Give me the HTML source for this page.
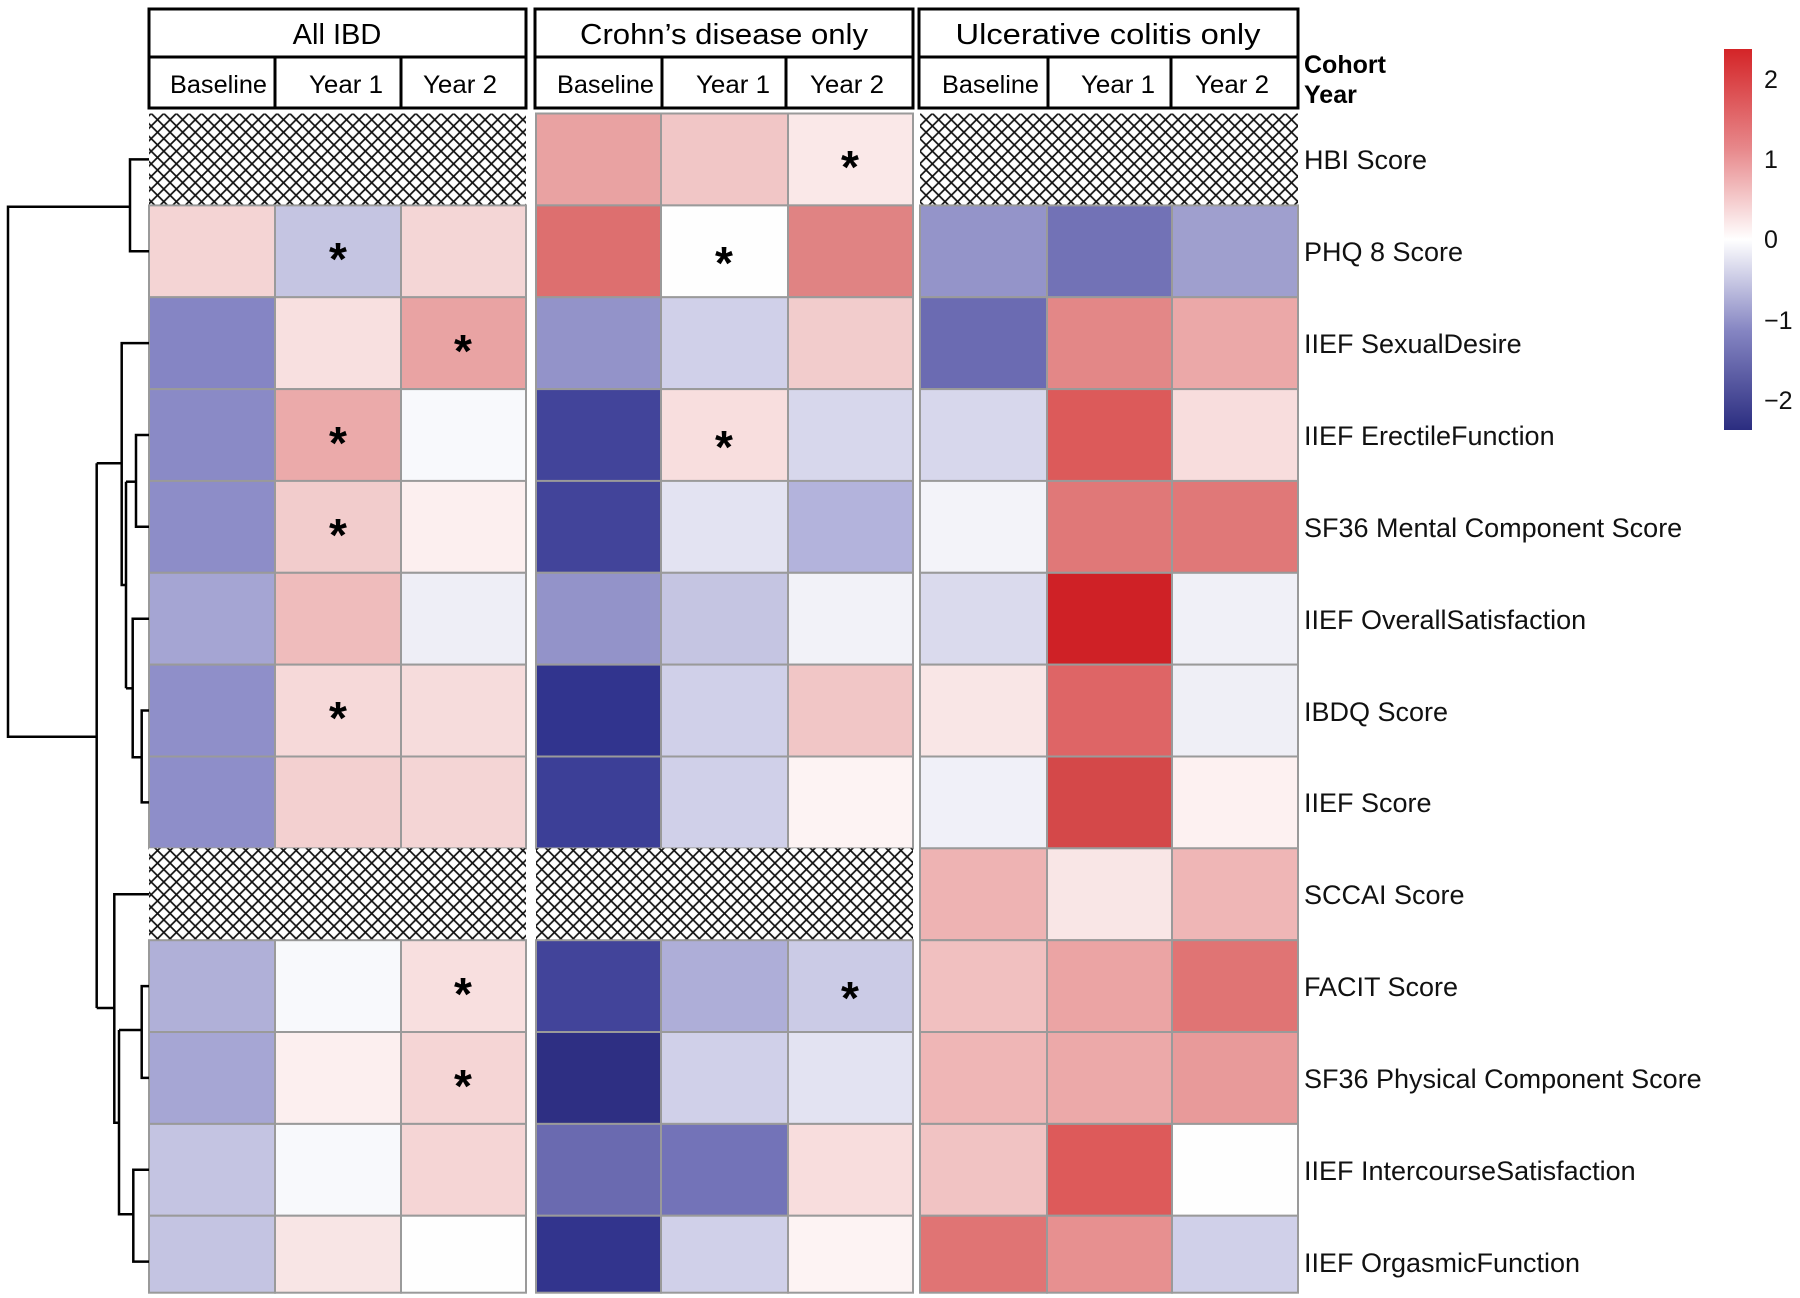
<!DOCTYPE html>
<html><head><meta charset="utf-8"><style>
html,body{margin:0;padding:0;background:#fff;}
svg{display:block;}
text{font-family:"Liberation Sans",Arial,sans-serif;}
.h{font-family:"Liberation Sans Narrow","Liberation Sans",sans-serif;font-size:29px;}
.s{font-family:"Liberation Sans Narrow","Liberation Sans",sans-serif;font-size:25px;}
.l{font-size:27px;fill:#111;}
.a{font-size:46px;font-weight:bold;}
</style></head><body>
<svg width="1800" height="1298" viewBox="0 0 1800 1298" xmlns="http://www.w3.org/2000/svg">
<defs>
<pattern id="hx" width="12.6" height="12.6" patternUnits="userSpaceOnUse">
<rect width="12.6" height="12.6" fill="#fff"/>
<path d="M0 0L12.6 12.6M12.6 0L0 12.6" stroke="#111" stroke-width="1.7"/>
</pattern>
<linearGradient id="cb" x1="0" y1="0" x2="0" y2="1">
<stop offset="0" stop-color="#d42427"/>
<stop offset="0.26" stop-color="#e7878a"/>
<stop offset="0.5" stop-color="#ffffff"/>
<stop offset="0.74" stop-color="#8585c2"/>
<stop offset="1" stop-color="#2b2d80"/>
</linearGradient>
</defs>

<g fill="none" stroke="#000" stroke-width="3">
<rect x="149" y="9" width="377" height="48"/><rect x="149" y="57" width="377" height="51"/>
<line x1="275" y1="57" x2="275" y2="108"/><line x1="401" y1="57" x2="401" y2="108"/>
<rect x="535" y="9" width="378" height="48"/><rect x="535" y="57" width="378" height="51"/>
<line x1="662" y1="57" x2="662" y2="108"/><line x1="786" y1="57" x2="786" y2="108"/>
<rect x="919" y="9" width="379" height="48"/><rect x="919" y="57" width="379" height="51"/>
<line x1="1048" y1="57" x2="1048" y2="108"/><line x1="1171" y1="57" x2="1171" y2="108"/>
</g>
<text class="h" x="337" y="44" text-anchor="middle">All IBD</text>
<text class="h" x="724" y="44" text-anchor="middle" textLength="288" lengthAdjust="spacingAndGlyphs">Crohn’s disease only</text>
<text class="h" x="1108" y="44" text-anchor="middle" textLength="305" lengthAdjust="spacingAndGlyphs">Ulcerative colitis only</text>
<g class="s">
<text x="170" y="93" textLength="97" lengthAdjust="spacingAndGlyphs">Baseline</text>
<text x="309" y="93" textLength="74" lengthAdjust="spacingAndGlyphs">Year 1</text>
<text x="423" y="93" textLength="74" lengthAdjust="spacingAndGlyphs">Year 2</text>
<text x="557" y="93" textLength="97" lengthAdjust="spacingAndGlyphs">Baseline</text>
<text x="696" y="93" textLength="74" lengthAdjust="spacingAndGlyphs">Year 1</text>
<text x="810" y="93" textLength="74" lengthAdjust="spacingAndGlyphs">Year 2</text>
<text x="942" y="93" textLength="97" lengthAdjust="spacingAndGlyphs">Baseline</text>
<text x="1081" y="93" textLength="74" lengthAdjust="spacingAndGlyphs">Year 1</text>
<text x="1195" y="93" textLength="74" lengthAdjust="spacingAndGlyphs">Year 2</text>
</g>
<text x="1304" y="73" font-size="25" font-weight="bold">Cohort</text>
<text x="1304" y="103" font-size="25" font-weight="bold">Year</text>

<g stroke="#9a9a9a" stroke-width="2">
<rect x="149" y="113.5" width="377" height="91.9" fill="url(#hx)" stroke="none"/>
<rect x="149" y="205.4" width="126" height="91.9" fill="#f4d4d4"/><rect x="275" y="205.4" width="126" height="91.9" fill="#c5c5e2"/><rect x="401" y="205.4" width="125" height="91.9" fill="#f4d6d6"/>
<rect x="149" y="297.2" width="126" height="91.9" fill="#8585c4"/><rect x="275" y="297.2" width="126" height="91.9" fill="#f8e0e0"/><rect x="401" y="297.2" width="125" height="91.9" fill="#e9a3a3"/>
<rect x="149" y="389.1" width="126" height="91.9" fill="#8a8ac6"/><rect x="275" y="389.1" width="126" height="91.9" fill="#ebaaaa"/><rect x="401" y="389.1" width="125" height="91.9" fill="#f8f9fc"/>
<rect x="149" y="480.9" width="126" height="91.9" fill="#8d8dc8"/><rect x="275" y="480.9" width="126" height="91.9" fill="#f2cccc"/><rect x="401" y="480.9" width="125" height="91.9" fill="#fcefef"/>
<rect x="149" y="572.8" width="126" height="91.9" fill="#a5a5d3"/><rect x="275" y="572.8" width="126" height="91.9" fill="#efbcbc"/><rect x="401" y="572.8" width="125" height="91.9" fill="#eeeef6"/>
<rect x="149" y="664.6" width="126" height="91.9" fill="#8f8fc9"/><rect x="275" y="664.6" width="126" height="91.9" fill="#f6d9d9"/><rect x="401" y="664.6" width="125" height="91.9" fill="#f6dcdc"/>
<rect x="149" y="756.5" width="126" height="91.9" fill="#8e8ec9"/><rect x="275" y="756.5" width="126" height="91.9" fill="#f3d0d0"/><rect x="401" y="756.5" width="125" height="91.9" fill="#f4d5d5"/>
<rect x="149" y="848.3" width="377" height="91.9" fill="url(#hx)" stroke="none"/>
<rect x="149" y="940.2" width="126" height="91.9" fill="#b0b0d8"/><rect x="275" y="940.2" width="126" height="91.9" fill="#f8f9fc"/><rect x="401" y="940.2" width="125" height="91.9" fill="#f8dfdf"/>
<rect x="149" y="1032" width="126" height="91.9" fill="#a6a6d4"/><rect x="275" y="1032" width="126" height="91.9" fill="#fcefef"/><rect x="401" y="1032" width="125" height="91.9" fill="#f5d5d5"/>
<rect x="149" y="1123.9" width="126" height="91.9" fill="#c4c4e2"/><rect x="275" y="1123.9" width="126" height="91.9" fill="#f8f9fc"/><rect x="401" y="1123.9" width="125" height="91.9" fill="#f5d5d5"/>
<rect x="149" y="1215.7" width="126" height="77" fill="#c4c4e2"/><rect x="275" y="1215.7" width="126" height="77" fill="#f8e5e5"/><rect x="401" y="1215.7" width="125" height="77" fill="#fefefe"/>
<rect x="536" y="113.5" width="125" height="91.9" fill="#e9a2a2"/><rect x="661" y="113.5" width="127" height="91.9" fill="#f1c6c6"/><rect x="788" y="113.5" width="125" height="91.9" fill="#fae8e8"/>
<rect x="536" y="205.4" width="125" height="91.9" fill="#dd6f6f"/><rect x="661" y="205.4" width="127" height="91.9" fill="#fefefe"/><rect x="788" y="205.4" width="125" height="91.9" fill="#e08383"/>
<rect x="536" y="297.2" width="125" height="91.9" fill="#9393c9"/><rect x="661" y="297.2" width="127" height="91.9" fill="#d0d0e9"/><rect x="788" y="297.2" width="125" height="91.9" fill="#f2cccc"/>
<rect x="536" y="389.1" width="125" height="91.9" fill="#42449a"/><rect x="661" y="389.1" width="127" height="91.9" fill="#f8dede"/><rect x="788" y="389.1" width="125" height="91.9" fill="#d7d7ec"/>
<rect x="536" y="480.9" width="125" height="91.9" fill="#42449a"/><rect x="661" y="480.9" width="127" height="91.9" fill="#e3e3f2"/><rect x="788" y="480.9" width="125" height="91.9" fill="#b3b3dc"/>
<rect x="536" y="572.8" width="125" height="91.9" fill="#9393c9"/><rect x="661" y="572.8" width="127" height="91.9" fill="#c5c5e2"/><rect x="788" y="572.8" width="125" height="91.9" fill="#f2f2f8"/>
<rect x="536" y="664.6" width="125" height="91.9" fill="#31348e"/><rect x="661" y="664.6" width="127" height="91.9" fill="#d0d0e9"/><rect x="788" y="664.6" width="125" height="91.9" fill="#f1c6c6"/>
<rect x="536" y="756.5" width="125" height="91.9" fill="#3c3f97"/><rect x="661" y="756.5" width="127" height="91.9" fill="#d0d0e9"/><rect x="788" y="756.5" width="125" height="91.9" fill="#fdf3f3"/>
<rect x="536" y="848.3" width="377" height="91.9" fill="url(#hx)" stroke="none"/>
<rect x="536" y="940.2" width="125" height="91.9" fill="#42449a"/><rect x="661" y="940.2" width="127" height="91.9" fill="#aeaed8"/><rect x="788" y="940.2" width="125" height="91.9" fill="#cbcbe6"/>
<rect x="536" y="1032" width="125" height="91.9" fill="#2e2f83"/><rect x="661" y="1032" width="127" height="91.9" fill="#d0d0e9"/><rect x="788" y="1032" width="125" height="91.9" fill="#e3e3f2"/>
<rect x="536" y="1123.9" width="125" height="91.9" fill="#6a6ab0"/><rect x="661" y="1123.9" width="127" height="91.9" fill="#7373b8"/><rect x="788" y="1123.9" width="125" height="91.9" fill="#f8dddd"/>
<rect x="536" y="1215.7" width="125" height="77" fill="#32348d"/><rect x="661" y="1215.7" width="127" height="77" fill="#d0d0e9"/><rect x="788" y="1215.7" width="125" height="77" fill="#fdf3f3"/>
<rect x="920" y="113.5" width="378" height="91.9" fill="url(#hx)" stroke="none"/>
<rect x="920" y="205.4" width="127" height="91.9" fill="#9494c9"/><rect x="1047" y="205.4" width="125" height="91.9" fill="#7272b6"/><rect x="1172" y="205.4" width="126" height="91.9" fill="#9f9fce"/>
<rect x="920" y="297.2" width="127" height="91.9" fill="#6b6bb2"/><rect x="1047" y="297.2" width="125" height="91.9" fill="#e38787"/><rect x="1172" y="297.2" width="126" height="91.9" fill="#eba8a8"/>
<rect x="920" y="389.1" width="127" height="91.9" fill="#d7d7ec"/><rect x="1047" y="389.1" width="125" height="91.9" fill="#dc5a5a"/><rect x="1172" y="389.1" width="126" height="91.9" fill="#f8dddd"/>
<rect x="920" y="480.9" width="127" height="91.9" fill="#f3f3f9"/><rect x="1047" y="480.9" width="125" height="91.9" fill="#e07878"/><rect x="1172" y="480.9" width="126" height="91.9" fill="#e07878"/>
<rect x="920" y="572.8" width="127" height="91.9" fill="#dadaed"/><rect x="1047" y="572.8" width="125" height="91.9" fill="#cf2126"/><rect x="1172" y="572.8" width="126" height="91.9" fill="#f0f0f7"/>
<rect x="920" y="664.6" width="127" height="91.9" fill="#f9e6e6"/><rect x="1047" y="664.6" width="125" height="91.9" fill="#de6566"/><rect x="1172" y="664.6" width="126" height="91.9" fill="#efeff6"/>
<rect x="920" y="756.5" width="127" height="91.9" fill="#f0f0f8"/><rect x="1047" y="756.5" width="125" height="91.9" fill="#d44849"/><rect x="1172" y="756.5" width="126" height="91.9" fill="#fdf1f1"/>
<rect x="920" y="848.3" width="127" height="91.9" fill="#eeb3b3"/><rect x="1047" y="848.3" width="125" height="91.9" fill="#f9e6e6"/><rect x="1172" y="848.3" width="126" height="91.9" fill="#efb6b6"/>
<rect x="920" y="940.2" width="127" height="91.9" fill="#f1c0c0"/><rect x="1047" y="940.2" width="125" height="91.9" fill="#eba4a4"/><rect x="1172" y="940.2" width="126" height="91.9" fill="#e07474"/>
<rect x="920" y="1032" width="127" height="91.9" fill="#efb6b6"/><rect x="1047" y="1032" width="125" height="91.9" fill="#eca9a9"/><rect x="1172" y="1032" width="126" height="91.9" fill="#e89a9a"/>
<rect x="920" y="1123.9" width="127" height="91.9" fill="#f1c3c3"/><rect x="1047" y="1123.9" width="125" height="91.9" fill="#dd5a5a"/><rect x="1172" y="1123.9" width="126" height="91.9" fill="#fefefe"/>
<rect x="920" y="1215.7" width="127" height="77" fill="#e07474"/><rect x="1047" y="1215.7" width="125" height="77" fill="#e79090"/><rect x="1172" y="1215.7" width="126" height="77" fill="#d0d0e9"/>
</g>

<g class="a" text-anchor="middle">
<text x="338" y="275">*</text>
<text x="463" y="367">*</text>
<text x="338" y="459">*</text>
<text x="338" y="551">*</text>
<text x="338" y="734">*</text>
<text x="463" y="1010">*</text>
<text x="463" y="1102">*</text>
<text x="850" y="183">*</text>
<text x="724" y="279">*</text>
<text x="724" y="463">*</text>
<text x="850" y="1014">*</text>
</g>

<g class="l">
<text x="1304" y="169">HBI Score</text>
<text x="1304" y="261">PHQ 8 Score</text>
<text x="1304" y="353">IIEF SexualDesire</text>
<text x="1304" y="445">IIEF ErectileFunction</text>
<text x="1304" y="537">SF36 Mental Component Score</text>
<text x="1304" y="629">IIEF OverallSatisfaction</text>
<text x="1304" y="721">IBDQ Score</text>
<text x="1304" y="812">IIEF Score</text>
<text x="1304" y="904">SCCAI Score</text>
<text x="1304" y="996">FACIT Score</text>
<text x="1304" y="1088">SF36 Physical Component Score</text>
<text x="1304" y="1180">IIEF IntercourseSatisfaction</text>
<text x="1304" y="1272">IIEF OrgasmicFunction</text>
</g>

<rect x="1724" y="49" width="28" height="381" fill="url(#cb)"/>
<g font-size="25" fill="#111">
<text x="1764" y="88">2</text>
<text x="1764" y="168">1</text>
<text x="1764" y="248">0</text>
<text x="1764" y="329">−1</text>
<text x="1764" y="409">−2</text>
</g>

<g fill="none" stroke="#000" stroke-width="2.5">
<path d="M149 159.4H130V251.3H149"/>
<path d="M130 206.7H8V736.7H96.7"/>
<path d="M96.7 463.3V1008"/>
<path d="M96.7 463.3H121.7"/>
<path d="M149 343.1H121.7V585H126"/>
<path d="M126 481.7V688.3"/>
<path d="M126 481.7H136"/>
<path d="M149 435H136V526.8H149"/>
<path d="M126 688.3H132.7"/>
<path d="M149 618.7H132.7V757.3H141.7"/>
<path d="M149 710.5H141.7V802.4H149"/>
<path d="M96.7 1008H114.3"/>
<path d="M149 894.2H114.3V1122.7H119"/>
<path d="M119 1030H141.7"/>
<path d="M149 986.1H141.7V1077.9H149"/>
<path d="M119 1030V1214.3H133.3"/>
<path d="M149 1169.8H133.3V1261.6H149"/>
</g>
</svg>
</body></html>
